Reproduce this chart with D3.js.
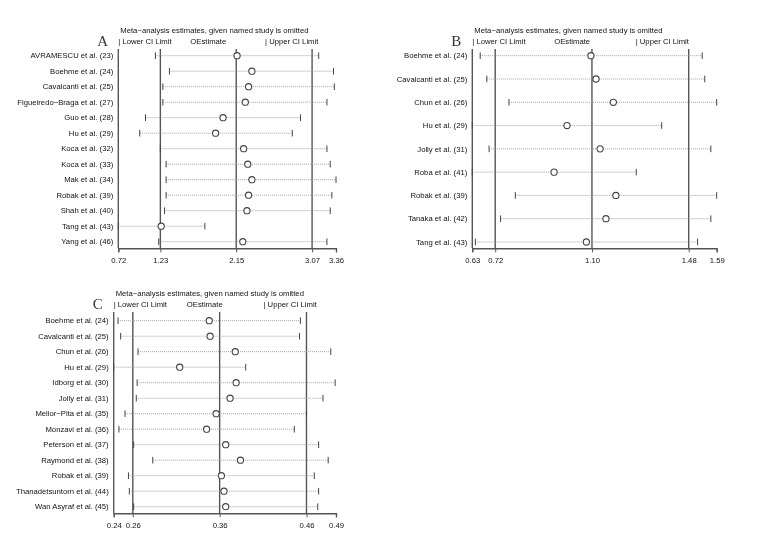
<!DOCTYPE html>
<html>
<head>
<meta charset="utf-8">
<script src="https://cdn.jsdelivr.net/npm/d3@7"></script>
<style>
  body { margin: 0; background: #fff; }
  svg { filter: grayscale(1); }
  text { font-family: "Liberation Sans", Arial, sans-serif; fill: #111; }
</style>
</head>
<body>
<div id="root"></div>
<script>
// panel A
var studiesA = ["AVRAMESCU et al. (23)", "Boehme et al. (24)", "Cavalcanti et al. (25)",
  "Figueiredo\u2212Braga et al. (27)", "Guo et al. (28)", "Hu et al. (29)", "Koca et al. (32)",
  "Koca et al. (33)", "Mak et al. (34)", "Robak et al. (39)", "Shah et al. (40)",
  "Tang et al. (43)", "Yang et al. (46)"];
var lowerA = [1.17, 1.34, 1.26, 1.26, 1.05, 0.98, 1.23, 1.30, 1.30, 1.30, 1.28, 0.72, 1.21];
var estA   = [2.16, 2.34, 2.30, 2.26, 1.99, 1.90, 2.24, 2.29, 2.34, 2.30, 2.28, 1.24, 2.23];
var upperA = [3.15, 3.33, 3.34, 3.25, 2.93, 2.83, 3.25, 3.29, 3.36, 3.31, 3.29, 1.77, 3.25];
var ticksA = [0.72, 1.23, 2.15, 3.07, 3.36];
var refA   = [1.23, 2.15, 3.07];

// panel B
var studiesB = ["Boehme et al. (24)", "Cavalcanti et al. (25)", "Chun et al. (26)",
  "Hu et al. (29)", "Jolly et al. (31)", "Roba et al. (41)", "Robak et al. (39)",
  "Tanaka et al. (42)", "Tang et al. (43)"];
var lowerB = [0.661, 0.687, 0.774, 0.63, 0.696, 0.63, 0.799, 0.741, 0.642];
var estB   = [1.096, 1.116, 1.184, 1.002, 1.132, 0.951, 1.194, 1.155, 1.078];
var upperB = [1.533, 1.543, 1.59, 1.374, 1.567, 1.274, 1.59, 1.567, 1.515];
var ticksB = [0.63, 0.72, 1.10, 1.48, 1.59];
var refB   = [0.72, 1.10, 1.48];

// panel C
var studiesC = ["Boehme et al. (24)", "Cavalcanti et al. (25)", "Chun et al. (26)",
  "Hu et al. (29)", "Idborg et al. (30)", "Jolly et al. (31)", "Mellor\u2212Pita et al. (35)",
  "Monzavi et al. (36)", "Peterson et al. (37)", "Raymond et al. (38)", "Robak et al. (39)",
  "Thanadetsuntorn et al. (44)", "Wan Asyraf et al. (45)"];
var lowerC = [0.243, 0.246, 0.266, 0.238, 0.265, 0.264, 0.251, 0.244, 0.261, 0.283, 0.255, 0.256, 0.261];
var estC   = [0.348, 0.349, 0.378, 0.314, 0.379, 0.372, 0.356, 0.345, 0.367, 0.384, 0.362, 0.365, 0.367];
var upperC = [0.453, 0.452, 0.488, 0.390, 0.493, 0.479, 0.460, 0.446, 0.474, 0.485, 0.469, 0.474, 0.473];
var ticksC = [0.238, 0.26, 0.36, 0.46, 0.494];
var refC   = [0.26, 0.36, 0.46];

var title = "Meta\u2212analysis estimates, given named study is omitted";
var fs = "7.7px";

var svg = d3.select("#root").append("svg")
    .attr("width", 758)
    .attr("height", 536);

function panel(p) {
  var g = svg.append("g");
  var x = d3.scaleLinear().domain([p.ticks[0], p.ticks[p.ticks.length - 1]]).range([p.x0, p.x1]);
  var y = d3.scalePoint().domain(p.studies).range([p.y0, p.y1]);
  var rows = p.studies.map(function(s, i) {
    return {name: s, lo: p.lower[i], est: p.est[i], hi: p.upper[i]};
  });

  // header
  g.append("text").attr("x", p.x0 + 2).attr("y", p.top - 16)
    .attr("font-size", fs).text(title);
  g.append("text").attr("x", p.x0).attr("y", p.top - 5)
    .attr("font-size", fs).text("| Lower CI Limit");
  g.append("text").attr("x", x(p.ref[0]) + p.estLeg).attr("y", p.top - 5)
    .attr("font-size", fs).text("OEstimate");
  g.append("text").attr("x", x(p.ref[2]) - p.upLeg).attr("y", p.top - 5)
    .attr("font-size", fs).text("| Upper CI Limit");
  g.append("text").attr("x", p.x0 - 21).attr("y", p.top - 3)
    .style("font-family", "'Liberation Serif', 'DejaVu Serif', serif")
    .style("fill", "#333")
    .attr("font-size", "15px")
    .text(p.letter);

  // left axis line and reference lines
  g.append("line").attr("x1", p.x0).attr("x2", p.x0)
    .attr("y1", p.top).attr("y2", p.axisY)
    .attr("stroke", "#555").attr("stroke-width", 1.4);
  g.selectAll(".ref").data(p.ref).enter().append("line")
    .attr("x1", function(d) { return x(d); })
    .attr("x2", function(d) { return x(d); })
    .attr("y1", p.top).attr("y2", p.axisY)
    .attr("stroke", "#555").attr("stroke-width", 1.4);

  // bottom axis
  var ax = g.append("g").attr("transform", "translate(0," + p.axisY + ")")
    .call(d3.axisBottom(x).tickValues(p.ticks).tickFormat(d3.format(".2f")).tickSize(4));
  ax.select(".domain").attr("stroke", "#555").attr("stroke-width", 1.4);
  ax.selectAll(".tick line").attr("stroke", "#555");
  ax.selectAll(".tick text").attr("font-size", fs).attr("dy", "0.95em");

  // study labels
  g.selectAll(".lab").data(rows).enter().append("text")
    .attr("x", p.x0 - 5)
    .attr("y", function(d) { return y(d.name); })
    .attr("dy", "0.35em")
    .attr("text-anchor", "end")
    .attr("font-size", fs)
    .text(function(d) { return d.name; });

  // dotted intervals
  g.selectAll(".ci").data(rows).enter().append("line")
    .attr("x1", function(d) { return x(d.lo); })
    .attr("x2", function(d) { return x(d.hi); })
    .attr("y1", function(d) { return y(d.name); })
    .attr("y2", function(d) { return y(d.name); })
    .attr("stroke", "#999").attr("stroke-width", 0.9)
    .attr("stroke-dasharray", "1,1");

  // limit ticks
  ["lo", "hi"].forEach(function(k) {
    g.selectAll(".t" + k).data(rows).enter().append("line")
      .attr("x1", function(d) { return x(d[k]); })
      .attr("x2", function(d) { return x(d[k]); })
      .attr("y1", function(d) { return y(d.name) - 3.3; })
      .attr("y2", function(d) { return y(d.name) + 3.3; })
      .attr("stroke", "#444").attr("stroke-width", 1);
  });

  // estimates
  g.selectAll(".est").data(rows).enter().append("circle")
    .attr("cx", function(d) { return x(d.est); })
    .attr("cy", function(d) { return y(d.name); })
    .attr("r", 3.1)
    .attr("fill", "#fff")
    .attr("stroke", "#444").attr("stroke-width", 1.1);
}

panel({letter: "A", studies: studiesA, lower: lowerA, est: estA, upper: upperA,
  ticks: ticksA, ref: refA, x0: 118.3, x1: 336, y0: 55.7, y1: 241.7, top: 49, axisY: 248.3,
  estLeg: 30, upLeg: 47});
panel({letter: "B", studies: studiesB, lower: lowerB, est: estB, upper: upperB,
  ticks: ticksB, ref: refB, x0: 472.3, x1: 716.7, y0: 55.7, y1: 242, top: 49, axisY: 248.3,
  estLeg: 59, upLeg: 53});
panel({letter: "C", studies: studiesC, lower: lowerC, est: estC, upper: upperC,
  ticks: ticksC, ref: refC, x0: 113.7, x1: 336, y0: 320.7, y1: 506.7, top: 312, axisY: 513.3,
  estLeg: 54, upLeg: 43});
</script>
</body>
</html>
